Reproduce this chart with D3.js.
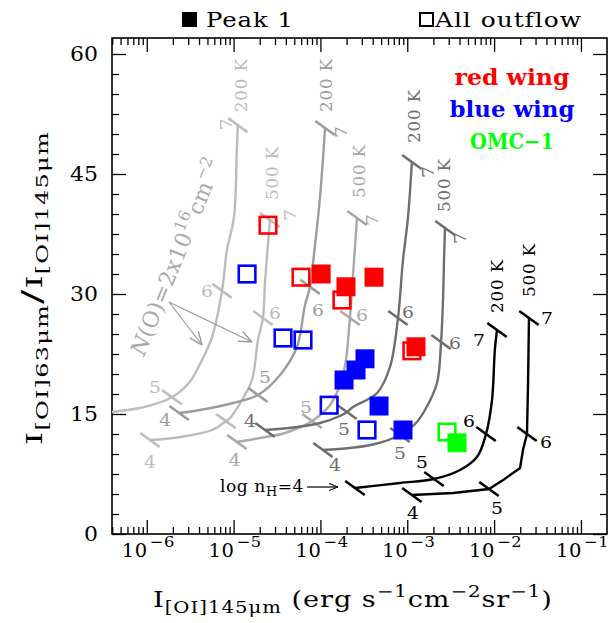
<!DOCTYPE html>
<html>
<head>
<meta charset="utf-8">
<script src="https://cdn.jsdelivr.net/npm/d3@7"></script>
<style>
  body { margin: 0; background: #fff; }
  svg { display: block; }
  text { font-family: "DejaVu Serif", "Liberation Serif", serif; }
</style>
</head>
<body>
<svg id="chart" width="609" height="623"></svg>
<script>
// ---------- axes ----------
const xDomain = [Math.pow(10, -6.4), Math.pow(10, -0.7)];
const yDomain = [0, 62];
const xMajorTicks = [1e-6, 1e-5, 1e-4, 1e-3, 1e-2, 1e-1];
const xTickExponents = ["−6", "−5", "−4", "−3", "−2", "−1"];
const yMajorTicks = [0, 15, 30, 45, 60];
const yTickLabels = ["0", "15", "30", "45", "60"];

// ---------- model tracks: [I145 (erg s-1 cm-2 sr-1), I63/I145] ----------
// N(O)=2x10^16 cm^-2
const trackA200 = [[2.45e-7,14.9],[3.98e-7,15.25],[9.55e-7,15.9],[1.95e-6,17.1],[3.07e-6,18.9],[4.33e-6,21.75],[5.65e-6,24.6],[7.36e-6,30.4],[8.39e-6,35.5],[1.01e-5,39.6],[1.09e-5,48.0],[1.12e-5,51.1]];
const marksA200 = [[2.45e-7,14.9],[1.95e-6,17.1],[7.36e-6,30.4],[1.12e-5,51.1]];
const trackA500 = [[1.09e-6,11.75],[2.36e-6,12.1],[5.65e-6,13.0],[8.18e-6,14.1],[9.1e-6,14.5],[1.29e-5,17.0],[1.63e-5,19.25],[1.91e-5,24.25],[2.18e-5,27.0],[2.30e-5,31.4],[2.62e-5,39.25]];
const marksA500 = [[1.09e-6,11.75],[8.18e-6,14.1],[2.18e-5,27.0],[2.62e-5,39.25]];
// second column density
const trackB200 = [[2.36e-6,15.125],[4.10e-6,15.5],[9.84e-6,16.375],[1.91e-5,17.375],[3.43e-5,19.875],[5.37e-5,23.375],[6.64e-5,28.6],[7.59e-5,30.9],[8.22e-5,33.9],[9.89e-5,42.1],[1.13e-4,50.75]];
const marksB200 = [[2.36e-6,15.125],[1.91e-5,17.375],[7.59e-5,30.9],[1.13e-4,50.75]];
const trackB500 = [[1.09e-5,11.5],[2.01e-5,12.0],[3.91e-5,12.625],[8.0e-5,14.125],[1.29e-4,16.125],[1.68e-4,18.625],[1.97e-4,21.75],[2.13e-4,25.5],[2.19e-4,27.0],[2.31e-4,30.5],[2.44e-4,34.25],[2.64e-4,39.5]];
const marksB500 = [[1.09e-5,11.5],[8.0e-5,14.125],[2.19e-4,27.0],[2.64e-4,39.5]];
// third column density
const trackC200 = [[2.30e-5,13.0],[5.37e-5,13.375],[9.89e-5,13.875],[1.68e-4,14.75],[2.02e-4,15.25],[2.37e-4,15.875],[4.49e-4,17.625],[6.32e-4,20.875],[7.82e-4,27.0],[8.93e-4,34.25],[1.02e-3,39.6],[1.13e-3,46.5]];
const marksC200 = [[2.30e-5,13.0],[2.02e-4,15.25],[7.82e-4,27.0],[1.13e-3,46.5]];
const trackC500 = [[1.07e-4,10.5],[2.19e-4,10.75],[4.26e-4,11.25],[8.25e-4,12.375],[1.23e-3,13.75],[1.60e-3,15.5],[2.20e-3,18.875],[2.45e-3,24.0],[2.58e-3,29.25],[2.65e-3,34.25],[2.72e-3,38.25]];
const marksC500 = [[1.07e-4,10.5],[8.25e-4,12.375],[2.45e-3,24.0],[2.72e-3,38.25]];
// fourth column density
const trackD200 = [[2.50e-4,5.75],[8.25e-4,6.375],[2.03e-3,6.875],[4.05e-3,8.0],[6.35e-3,9.625],[8.07e-3,12.5],[9.46e-3,16.75],[1.02e-2,23.0],[1.08e-2,25.5]];
const marksD200 = [[2.50e-4,5.75],[2.03e-3,6.875],[8.07e-3,12.5],[1.08e-2,25.5]];
const trackD500 = [[1.13e-3,4.875],[3.37e-3,5.125],[8.73e-3,5.625],[1.27e-2,6.75],[1.99e-2,8.25],[2.15e-2,10.5],[2.39e-2,12.5],[2.46e-2,18.875],[2.52e-2,27.0]];
const marksD500 = [[1.13e-3,4.875],[8.73e-3,5.625],[2.39e-2,12.5],[2.52e-2,27.0]];
const densityLabels = ["4", "5", "6", "7"];
const tempLabels = ["200 K", "500 K"];

// ---------- observations ----------
const peakRed = [[1.02e-4,32.5],[1.97e-4,30.9],[4.14e-4,32.1],[1.26e-3,23.4]];
const peakBlue = [[1.87e-4,19.25],[2.57e-4,20.5],[3.26e-4,21.9],[4.73e-4,16.0],[8.93e-4,13.0]];
const peakGreen = [[3.74e-3,11.4]];
const outflowRed = [[2.49e-5,38.6],[5.98e-5,32.1],[1.77e-4,29.25],[1.13e-3,22.9]];
const outflowBlue = [[1.43e-5,32.5],[3.71e-5,24.5],[6.30e-5,24.25],[1.26e-4,16.1],[3.44e-4,13.0]];
const outflowGreen = [[2.87e-3,12.75]];

// ---------- layout ----------
const plot = { left: 112, right: 607, top: 38, bottom: 534 };
const svg = d3.select("#chart");
const x = d3.scaleLog().domain(xDomain).range([plot.left, plot.right]);
const y = d3.scaleLinear().domain(yDomain).range([plot.bottom, plot.top]);

// text placed by a transform, optionally rotated
function label(parent, px, py, rot) {
  return parent.append("text")
    .attr("transform", `translate(${px},${py})` + (rot ? ` rotate(${rot})` : ""));
}
// widen a text horizontally (in its own frame) so that it spans the given width
function fit(t, width) {
  const L = t.node().getComputedTextLength();
  t.attr("transform", t.attr("transform") + ` scale(${(width / L).toFixed(4)},1)`);
  return t;
}

// minor ticks of the log axis (2..9 of every decade)
const xMinorTicks = [];
for (let e = -7; e <= -1; e++) for (let m = 2; m <= 9; m++) {
  const v = m * Math.pow(10, e);
  if (v > xDomain[0] && v < xDomain[1]) xMinorTicks.push(v);
}
const yMinorTicks = d3.range(0, 62.01, 2.5).filter(v => v % 15 !== 0);

function tickAxis(axisFn, scale, values, size, tx, ty) {
  const g = svg.append("g").attr("transform", `translate(${tx},${ty})`)
    .call(axisFn(scale).tickValues(values).tickSize(size).tickFormat(""));
  g.select(".domain").remove();
  g.selectAll("line").attr("stroke", "#000").attr("stroke-width", 1.3);
}
tickAxis(d3.axisBottom, x, xMinorTicks, -7, 0, plot.bottom);
tickAxis(d3.axisBottom, x, xMajorTicks, -14, 0, plot.bottom);
tickAxis(d3.axisTop, x, xMinorTicks, -7, 0, plot.top);
tickAxis(d3.axisTop, x, xMajorTicks, -14, 0, plot.top);
tickAxis(d3.axisLeft, y, yMinorTicks, -7, plot.left, 0);
tickAxis(d3.axisLeft, y, yMajorTicks, -14, plot.left, 0);
tickAxis(d3.axisRight, y, yMinorTicks, -7, plot.right, 0);
tickAxis(d3.axisRight, y, yMajorTicks, -14, plot.right, 0);

svg.append("rect")
  .attr("x", plot.left).attr("y", plot.top)
  .attr("width", plot.right - plot.left).attr("height", plot.bottom - plot.top)
  .attr("fill", "none").attr("stroke", "#000").attr("stroke-width", 1.6);

// tick labels
xMajorTicks.forEach((v, i) => {
  const t = label(svg, x(v) - 25, 557).attr("font-size", 18).attr("letter-spacing", 0.5);
  t.append("tspan").text("10");
  t.append("tspan").attr("dx", 2).attr("dy", -10).attr("font-size", 15).text(xTickExponents[i]);
  fit(t, 51);
});
yMajorTicks.forEach((v, i) => {
  const t = label(svg, 98, y(v) + 7).attr("text-anchor", "end").attr("font-size", 20)
    .text(yTickLabels[i]);
  fit(t, yTickLabels[i].length * 14);
});

// axis titles
const xt = label(svg, 153, 607).attr("font-size", 22).attr("letter-spacing", 0.8);
xt.append("tspan").text("I");
xt.append("tspan").attr("dy", 6).attr("font-size", 16).text("[OI]145μm");
xt.append("tspan").attr("dy", -6).text(" (erg s");
xt.append("tspan").attr("dy", -10).attr("font-size", 16).text("−1");
xt.append("tspan").attr("dy", 10).text("cm");
xt.append("tspan").attr("dy", -10).attr("font-size", 16).text("−2");
xt.append("tspan").attr("dy", 10).text("sr");
xt.append("tspan").attr("dy", -10).attr("font-size", 16).text("−1");
xt.append("tspan").attr("dy", 10).text(")");
fit(xt, 400);

const yt = label(svg, 42, 288, -90).attr("text-anchor", "middle").attr("font-size", 22).attr("letter-spacing", 0.8);
yt.append("tspan").text("I");
yt.append("tspan").attr("dy", 6).attr("font-size", 16).text("[OI]63μm");
yt.append("tspan").attr("dy", -6).attr("font-size", 28).text("/");
yt.append("tspan").text("I");
yt.append("tspan").attr("dy", 6).attr("font-size", 16).text("[OI]145μm");
fit(yt, 314);

// ---------- model tracks ----------
svg.append("defs").append("clipPath").attr("id", "plotClip")
  .append("rect").attr("x", plot.left).attr("y", plot.top)
  .attr("width", plot.right - plot.left).attr("height", plot.bottom - plot.top);

const line = d3.line().x(d => x(d[0])).y(d => y(d[1])).curve(d3.curveCatmullRom.alpha(0.5));
const lineKinked = d3.line().x(d => x(d[0])).y(d => y(d[1]));

// label offsets (px) for each density mark, and rotated temperature label anchor
const tracks = [
  { pts: trackA200, marks: marksA200, color: "#bcbcbc", t: 0, off: [null, [-17,-10], [-15,0], [-12,-1]], tOff: [9,-13] },
  { pts: trackA500, marks: marksA500, color: "#bcbcbc", t: 1, off: [[0,22], null, [12,-5], [20,-5]], tOff: [8,-20] },
  { pts: trackB200, marks: marksB200, color: "#9c9c9c", t: 0, off: [[-14,7], [7,-18], [8,23], [16,4]], tOff: [7,-16] },
  { pts: trackB500, marks: marksB500, color: "#a8a8a8", t: 1, off: [[-2,18], [-6,-14], [12,-3], [15,2]], tOff: [8,-20] },
  { pts: trackC200, marks: marksC200, color: "#6e6e6e", t: 0, off: [[-15,-9], [-3,17], [10,-6], [16,10]], tOff: [8,-19] },
  { pts: trackC500, marks: marksC500, color: "#6e6e6e", t: 1, off: [[12,15], [0,18], [14,1], [15,10]], tOff: [5,-16] },
  { pts: trackD200, marks: marksD200, color: "#000", t: 0, off: [null, [-12,-17], [-17,-13], [-18,10]], tOff: [6,-17], upright: true },
  { pts: trackD500, marks: marksD500, color: "#000", t: 1, off: [[1,18], [8,19], [19,8], [18,0]], tOff: [6,-21], upright: true, kinked: true }
];

const gTracks = svg.append("g").attr("clip-path", "url(#plotClip)");
const gLabels = svg.append("g");
const tickAng = 36 * Math.PI / 180, tickHalf = 12;
tracks.forEach(tr => {
  gTracks.append("path").attr("d", (tr.kinked ? lineKinked : line)(tr.pts))
    .attr("fill", "none").attr("stroke", tr.color).attr("stroke-width", 2.4);
  tr.marks.forEach((m, i) => {
    const px = x(m[0]), py = y(m[1]);
    gTracks.append("line")
      .attr("x1", px - tickHalf * Math.cos(tickAng)).attr("y1", py - tickHalf * Math.sin(tickAng))
      .attr("x2", px + tickHalf * Math.cos(tickAng)).attr("y2", py + tickHalf * Math.sin(tickAng))
      .attr("stroke", tr.color).attr("stroke-width", 2.6);
    const o = tr.off[i];
    if (!o) return;
    const rotated = (i === 3 && !tr.upright);
    const t = label(gLabels, px + o[0], py + o[1], rotated ? -90 : 0)
      .attr("text-anchor", "middle").attr("dy", "0.36em")
      .attr("font-size", 17).attr("fill", tr.color)
      .text(densityLabels[i]);
    fit(t, 12);
  });
  const top = tr.marks[3];
  const tl = label(gLabels, x(top[0]) + tr.tOff[0], y(top[1]) + tr.tOff[1], -90)
    .attr("font-size", 17).attr("letter-spacing", 0.8).attr("fill", tr.color)
    .text(tempLabels[tr.t]);
  fit(tl, 54);
});

// column density annotation with arrows
svg.append("defs").append("marker").attr("id", "openHead")
  .attr("viewBox", "0 0 10 10").attr("refX", 10).attr("refY", 5)
  .attr("markerWidth", 9).attr("markerHeight", 9).attr("orient", "auto")
  .attr("markerUnits", "userSpaceOnUse")
  .append("path").attr("d", "M0,1 L10,5 L0,9").attr("fill", "none").attr("stroke", "#000").attr("stroke-width", 1.2);
svg.append("defs").append("marker").attr("id", "grayHead")
  .attr("viewBox", "0 0 12 12").attr("refX", 12).attr("refY", 6)
  .attr("markerWidth", 13).attr("markerHeight", 13).attr("orient", "auto")
  .attr("markerUnits", "userSpaceOnUse")
  .append("path").attr("d", "M0,1 L12,6 L0,11").attr("fill", "none").attr("stroke", "#999").attr("stroke-width", 1.3);

const nt = label(svg, 144, 357, -68).attr("font-size", 22).attr("fill", "#aaa").attr("letter-spacing", 0.5);
nt.append("tspan").attr("font-style", "italic").text("N");
nt.append("tspan").text("(O)=2x10");
nt.append("tspan").attr("dy", -10).attr("font-size", 16).text("16");
nt.append("tspan").attr("dy", 10).text("cm");
nt.append("tspan").attr("dy", -10).attr("font-size", 16).text("−2");
fit(nt, 210);

[[202, 345], [252, 342]].forEach(p => {
  svg.append("line").attr("x1", 169).attr("y1", 302).attr("x2", p[0]).attr("y2", p[1])
    .attr("stroke", "#999").attr("stroke-width", 1.2).attr("marker-end", "url(#grayHead)");
});

// density pointer for the black track
const dn = label(svg, 220, 492).attr("font-size", 16).attr("letter-spacing", 0.5);
dn.append("tspan").text("log  n");
dn.append("tspan").attr("dy", 4).attr("font-size", 12).text("H");
dn.append("tspan").attr("dy", -4).text("=4");
fit(dn, 84);
svg.append("line").attr("x1", 307).attr("y1", 487).attr("x2", 338).attr("y2", 487)
  .attr("stroke", "#000").attr("stroke-width", 1.2).attr("marker-end", "url(#openHead)");

// ---------- observed ratios ----------
const sq = 19;
function openSquares(data, color) {
  svg.append("g").selectAll("rect").data(data).join("rect")
    .attr("x", d => x(d[0]) - sq / 2 + 1.2).attr("y", d => y(d[1]) - sq / 2 + 1.2)
    .attr("width", sq - 2.4).attr("height", sq - 2.4)
    .attr("fill", "none").attr("stroke", color).attr("stroke-width", 2.6);
}
function filledSquares(data, color) {
  svg.append("g").selectAll("rect").data(data).join("rect")
    .attr("x", d => x(d[0]) - sq / 2).attr("y", d => y(d[1]) - sq / 2)
    .attr("width", sq).attr("height", sq).attr("fill", color);
}
openSquares(outflowRed, "#ff0000");
openSquares(outflowBlue, "#0000ff");
openSquares(outflowGreen, "#00ff00");
filledSquares(peakRed, "#ff0000");
filledSquares(peakBlue, "#0000ff");
filledSquares(peakGreen, "#00ff00");

// ---------- legends ----------
svg.append("rect").attr("x", 182).attr("y", 12).attr("width", 15).attr("height", 15).attr("fill", "#000");
fit(label(svg, 206, 27).attr("font-size", 20).attr("letter-spacing", 0.8).text("Peak 1"), 88);
svg.append("rect").attr("x", 420).attr("y", 13).attr("width", 13).attr("height", 13)
  .attr("fill", "none").attr("stroke", "#000").attr("stroke-width", 2);
fit(label(svg, 435, 27).attr("font-size", 20).attr("letter-spacing", 0.8).text("All outflow"), 147);

const wings = [["red wing", "#ff0000", 85, 115], ["blue wing", "#0000ff", 117, 125], ["OMC−1", "#00ff00", 149, 84]];
wings.forEach(w => {
  const t = label(svg, 512, w[2]).attr("text-anchor", "middle")
    .attr("font-size", 22).attr("font-weight", "bold").attr("fill", w[1]).text(w[0]);
  fit(t, w[3]);
});
</script>
</body>
</html>
